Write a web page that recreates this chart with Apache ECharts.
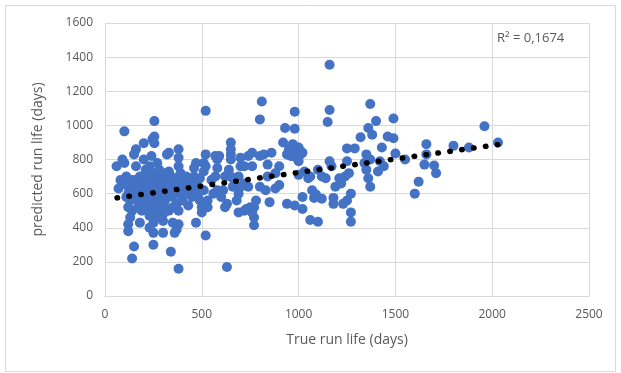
<!DOCTYPE html>
<html>
<head>
<meta charset="utf-8">
<script src="https://cdn.jsdelivr.net/npm/echarts@6/dist/echarts.min.js"></script>
<style>
  html, body { margin: 0; padding: 0; background: #fff; }
  #chart { width: 621px; height: 373px; }
</style>
</head>
<body>
<div id="chart"></div>
<script>
// True run life (days) for each well
const trueLife = [
  1160, 1160, 1150, 810, 800, 520, 980, 980, 1370, 1360, 1380, 1400, 1490, 1490, 1460, 1960, 2030, 1880, 1800, 100,
  255, 255, 245, 255, 200, 930, 920, 1320, 1250, 1290, 1430, 1660, 1660, 1650, 1700, 1710, 1550, 1600, 1620, 1500,
  1420, 1410, 1440, 1370, 1350, 1350, 1360, 1370, 1270, 1270, 1270, 1250, 1240, 1260, 1250, 1210, 1190, 1180, 1180, 1160,
  1170, 1140, 1120, 1100, 1060, 1080, 1090, 1070, 1060, 1100, 1020, 1020, 980, 940, 1010, 1020, 990, 960, 950, 970,
  990, 1000, 970, 940, 1030, 1000, 900, 900, 880, 880, 860, 850, 840, 820, 800, 800, 830, 780, 770, 770,
  770, 760, 750, 730, 720, 760, 760, 740, 740, 720, 700, 700, 690, 690, 680, 690, 660, 660, 650, 650,
  650, 650, 640, 650, 630, 630, 620, 600, 580, 570, 580, 580, 570, 590, 550, 530, 530, 520, 510, 510,
  520, 520, 510, 500, 500, 490, 490, 480, 470, 470, 460, 460, 450, 430, 420, 400, 390, 380, 380, 380,
  380, 380, 390, 380, 370, 360, 350, 340, 340, 330, 330, 320, 330, 320, 310, 300, 300, 300, 290, 290,
  280, 270, 270, 270, 260, 260, 250, 250, 250, 240, 240, 240, 230, 230, 230, 220, 220, 210, 200, 200,
  200, 190, 180, 180, 170, 170, 160, 160, 160, 150, 150, 140, 140, 140, 130, 130, 120, 120, 120, 120,
  110, 110, 100, 100, 90, 80, 70, 60, 150, 190, 210, 280, 300, 310, 270, 350, 350, 360, 290, 250,
  320, 200, 180, 240, 270, 310, 230, 340, 370, 410, 440, 460, 480, 420, 560, 610, 620, 700, 720, 840,
  1050, 1120, 1220, 1230, 1340, 960, 1000,
  260, 280, 300, 320, 330, 290, 260, 240, 220, 300, 340, 280, 310, 350, 330, 200, 180, 160, 140, 120,
  220, 260, 360, 380, 400, 420, 450, 980, 1000, 960, 1010
];
// Predicted run life (days), same order
const predLife = [
  1355, 1090, 1020, 1140, 1035, 1085, 1080, 980, 1125, 985, 945, 1025, 1040, 925, 935, 995, 900, 870, 880, 965,
  1025, 935, 920, 895, 895, 985, 900, 930, 865, 865, 870, 890, 830, 770, 765, 720, 800, 600, 670, 835,
  790, 730, 760, 800, 830, 740, 690, 640, 600, 490, 435, 560, 700, 720, 790, 690, 640, 575, 540, 790,
  760, 690, 570, 435, 445, 575, 595, 620, 700, 740, 580, 510, 530, 540, 850, 840, 870, 840, 860, 890,
  810, 790, 820, 830, 730, 710, 760, 650, 720, 630, 840, 550, 700, 830, 820, 640, 620, 560, 520, 460,
  415, 490, 520, 510, 500, 760, 840, 820, 640, 660, 810, 760, 700, 600, 560, 490, 640, 690, 900, 860,
  830, 800, 740, 700, 170, 540, 520, 580, 620, 700, 750, 800, 820, 820, 680, 520, 560, 355, 620, 730,
  760, 830, 780, 490, 520, 560, 690, 640, 430, 780, 750, 700, 680, 530, 650, 680, 720, 160, 500, 860,
  810, 760, 600, 420, 390, 370, 430, 260, 700, 730, 840, 830, 620, 580, 560, 480, 440, 370, 700, 640,
  530, 780, 700, 600, 660, 500, 430, 370, 300, 690, 820, 550, 400, 470, 610, 720, 520, 580, 800, 700,
  660, 500, 640, 430, 560, 520, 760, 680, 860, 830, 290, 220, 620, 500, 560, 460, 420, 380, 520, 640,
  580, 700, 660, 780, 800, 680, 630, 760, 660, 600, 740, 660, 680, 720, 560, 580, 640, 690, 500, 620,
  510, 540, 700, 650, 460, 650, 760, 600, 540, 590, 620, 640, 590, 700, 600, 620, 700, 640, 760, 770,
  690, 700, 660, 540, 780, 870, 870,
  580, 620, 600, 680, 660, 560, 720, 600, 660, 640, 660, 740, 600, 520, 500, 620, 580, 600, 680, 600,
  560, 540, 620, 640, 560, 610, 580, 850, 840, 820, 830
];
// Linear trendline end points as drawn
const trendX = [62, 2035];
const trendY = [575, 888];
const xTicks = [0, 500, 1000, 1500, 2000, 2500];
const yTicks = [0, 200, 400, 600, 800, 1000, 1200, 1400, 1600];
const r2Label = 'R² = 0,1674';

const FONT = '"Open Sans", "Noto Sans", sans-serif';
const TXT  = '#595959';
const GRID = '#d9d9d9';

const chart = echarts.init(document.getElementById('chart'), null, { renderer: 'canvas' });

chart.setOption({
  backgroundColor: '#fff',
  animation: false,
  grid: { left: 105, right: 32, top: 23, bottom: 77, containLabel: false },
  graphic: [
    { type: 'rect', shape: { x: 5.5, y: 5.5, width: 610, height: 366 },
      style: { fill: 'none', stroke: GRID, lineWidth: 1 }, silent: true },
    { type: 'text', left: 497, top: 32,
      style: { text: r2Label, fill: TXT, font: '13px ' + FONT } },
  ],
  xAxis: {
    type: 'value', min: xTicks[0], max: xTicks[xTicks.length - 1], interval: 500,
    name: 'True run life (days)', nameLocation: 'middle', nameGap: 37,
    nameTextStyle: { color: TXT, fontSize: 14, fontFamily: FONT },
    axisLine: { show: true, lineStyle: { color: GRID } },
    axisTick: { show: false },
    axisLabel: { color: TXT, fontSize: 12, fontFamily: FONT, margin: 13, formatter: (v) => String(v) },
    splitLine: { show: true, lineStyle: { color: GRID } },
  },
  yAxis: {
    type: 'value', min: yTicks[0], max: yTicks[yTicks.length - 1], interval: 200,
    name: 'predicted run life (days)', nameLocation: 'middle', nameGap: 60,
    nameTextStyle: { color: TXT, fontSize: 14, fontFamily: FONT },
    axisLine: { show: false },
    axisTick: { show: false },
    axisLabel: { color: TXT, fontSize: 12, fontFamily: FONT, margin: 12, formatter: (v) => String(v) },
    splitLine: { show: true, lineStyle: { color: GRID } },
  },
  series: [
    {
      type: 'scatter',
      data: trueLife.map((x, i) => [x, predLife[i]]),
      symbol: 'circle', symbolSize: 10,
      itemStyle: { color: '#4472C4', opacity: 1 },
      z: 2,
    },
    {
      type: 'line',
      data: trendX.map((x, i) => [x, trendY[i]]),
      symbol: 'none',
      lineStyle: { color: '#000', width: 5.5, type: [0.5, 11.5], cap: 'round' },
      z: 3,
    },
  ],
});
</script>
</body>
</html>
